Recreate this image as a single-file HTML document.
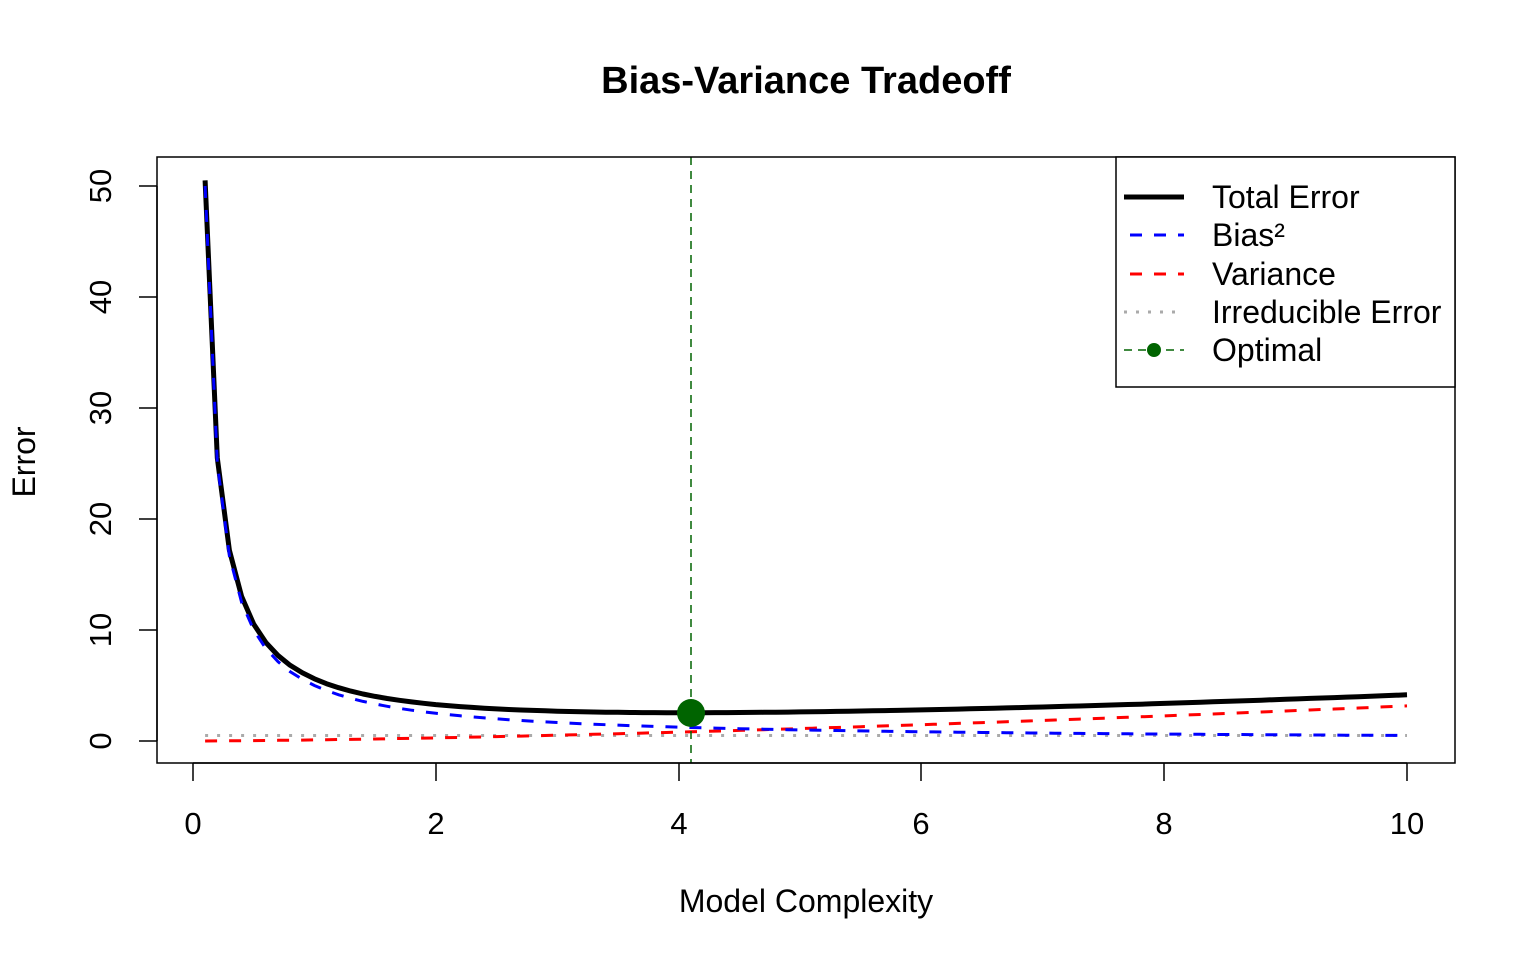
<!DOCTYPE html>
<html><head><meta charset="utf-8"><style>
html,body{margin:0;padding:0;background:#fff;}
svg{display:block;font-family:"Liberation Sans",Arial,sans-serif;}
</style></head><body>
<svg id="s" width="1536" height="960" viewBox="0 0 1536 960" xmlns="http://www.w3.org/2000/svg">
<rect width="1536" height="960" fill="#fff"/>
<text x="806" y="93" text-anchor="middle" font-size="38" font-weight="bold">Bias-Variance Tradeoff</text>
<g id="curves"></g>
<line x1="691" y1="157" x2="691" y2="763" stroke="#006400" stroke-width="1.5" stroke-dasharray="8,6"/>
<circle cx="691" cy="713" r="14" fill="#006400"/>
<rect x="157" y="157" width="1298" height="606" fill="none" stroke="#000" stroke-width="1.5"/>
<g stroke="#000" stroke-width="1.5">
<line x1="193" y1="763" x2="1407" y2="763"/>
<line x1="193" y1="763" x2="193" y2="781"/><line x1="436" y1="763" x2="436" y2="781"/>
<line x1="679" y1="763" x2="679" y2="781"/><line x1="921" y1="763" x2="921" y2="781"/>
<line x1="1164" y1="763" x2="1164" y2="781"/><line x1="1407" y1="763" x2="1407" y2="781"/>
<line x1="157" y1="741" x2="157" y2="186"/>
<line x1="157" y1="741" x2="139" y2="741"/><line x1="157" y1="630" x2="139" y2="630"/>
<line x1="157" y1="519" x2="139" y2="519"/><line x1="157" y1="408" x2="139" y2="408"/>
<line x1="157" y1="297" x2="139" y2="297"/><line x1="157" y1="186" x2="139" y2="186"/>
</g>
<g font-size="31" text-anchor="middle">
<text x="193" y="834">0</text><text x="436" y="834">2</text><text x="679" y="834">4</text>
<text x="921" y="834">6</text><text x="1164" y="834">8</text><text x="1407" y="834">10</text>
<g transform="translate(111,741) rotate(-90)"><text x="0" y="0">0</text></g>
<g transform="translate(111,630) rotate(-90)"><text x="0" y="0">10</text></g>
<g transform="translate(111,519) rotate(-90)"><text x="0" y="0">20</text></g>
<g transform="translate(111,408) rotate(-90)"><text x="0" y="0">30</text></g>
<g transform="translate(111,297) rotate(-90)"><text x="0" y="0">40</text></g>
<g transform="translate(111,186) rotate(-90)"><text x="0" y="0">50</text></g>
</g>
<g font-size="32" text-anchor="middle">
<text x="806" y="912">Model Complexity</text>
<g transform="translate(35,462) rotate(-90)"><text x="0" y="0">Error</text></g>
</g>
<rect x="1116" y="157" width="339" height="230" fill="#fff" stroke="#000" stroke-width="1.5"/>
<line x1="1124" y1="197" x2="1184" y2="197" stroke="#000" stroke-width="5"/>
<line x1="1124" y1="235" x2="1184" y2="235" stroke="#00f" stroke-width="3" stroke-dasharray="12,12" stroke-dashoffset="-6"/>
<line x1="1124" y1="274" x2="1184" y2="274" stroke="#f00" stroke-width="3" stroke-dasharray="12,12" stroke-dashoffset="-6"/>
<line x1="1124" y1="312" x2="1184" y2="312" stroke="#aaa" stroke-width="3" stroke-dasharray="3,9"/>
<line x1="1124" y1="350" x2="1184" y2="350" stroke="#006400" stroke-width="1.5" stroke-dasharray="8,6"/>
<circle cx="1154" cy="350" r="7" fill="#006400"/>
<g font-size="32">
<text x="1212" y="208">Total Error</text>
<text x="1212" y="246">Bias²</text>
<text x="1212" y="285">Variance</text>
<text x="1212" y="323">Irreducible Error</text>
<text x="1212" y="361">Optimal</text>
</g>
</svg>
<script>
(function(){
function X(v){return 193+v*121.4;}
function Y(v){return 741-v*11.1;}
var b=[],vr=[],ir=[],t=[];
for(var i=1;i<=100;i++){var x=i/10;var bb=5/x,vv=0.1*Math.pow(x,1.5);
b.push(X(x).toFixed(1)+","+Y(bb).toFixed(1));
vr.push(X(x).toFixed(1)+","+Y(vv).toFixed(1));
ir.push(X(x).toFixed(1)+","+Y(0.5).toFixed(1));
t.push(X(x).toFixed(1)+","+Y(bb+vv+0.5).toFixed(1));}
var g=document.getElementById("curves");
g.innerHTML='<polyline points="'+ir.join(" ")+'" fill="none" stroke="#aaa" stroke-width="3" stroke-dasharray="3,9"/>'+
'<polyline points="'+vr.join(" ")+'" fill="none" stroke="#f00" stroke-width="3" stroke-dasharray="12,12"/>'+
'<polyline points="'+t.join(" ")+'" fill="none" stroke="#000" stroke-width="5" stroke-linejoin="round"/>'+
'<polyline points="'+b.join(" ")+'" fill="none" stroke="#00f" stroke-width="3" stroke-dasharray="12,12"/>';
})();
</script>
</body></html>
